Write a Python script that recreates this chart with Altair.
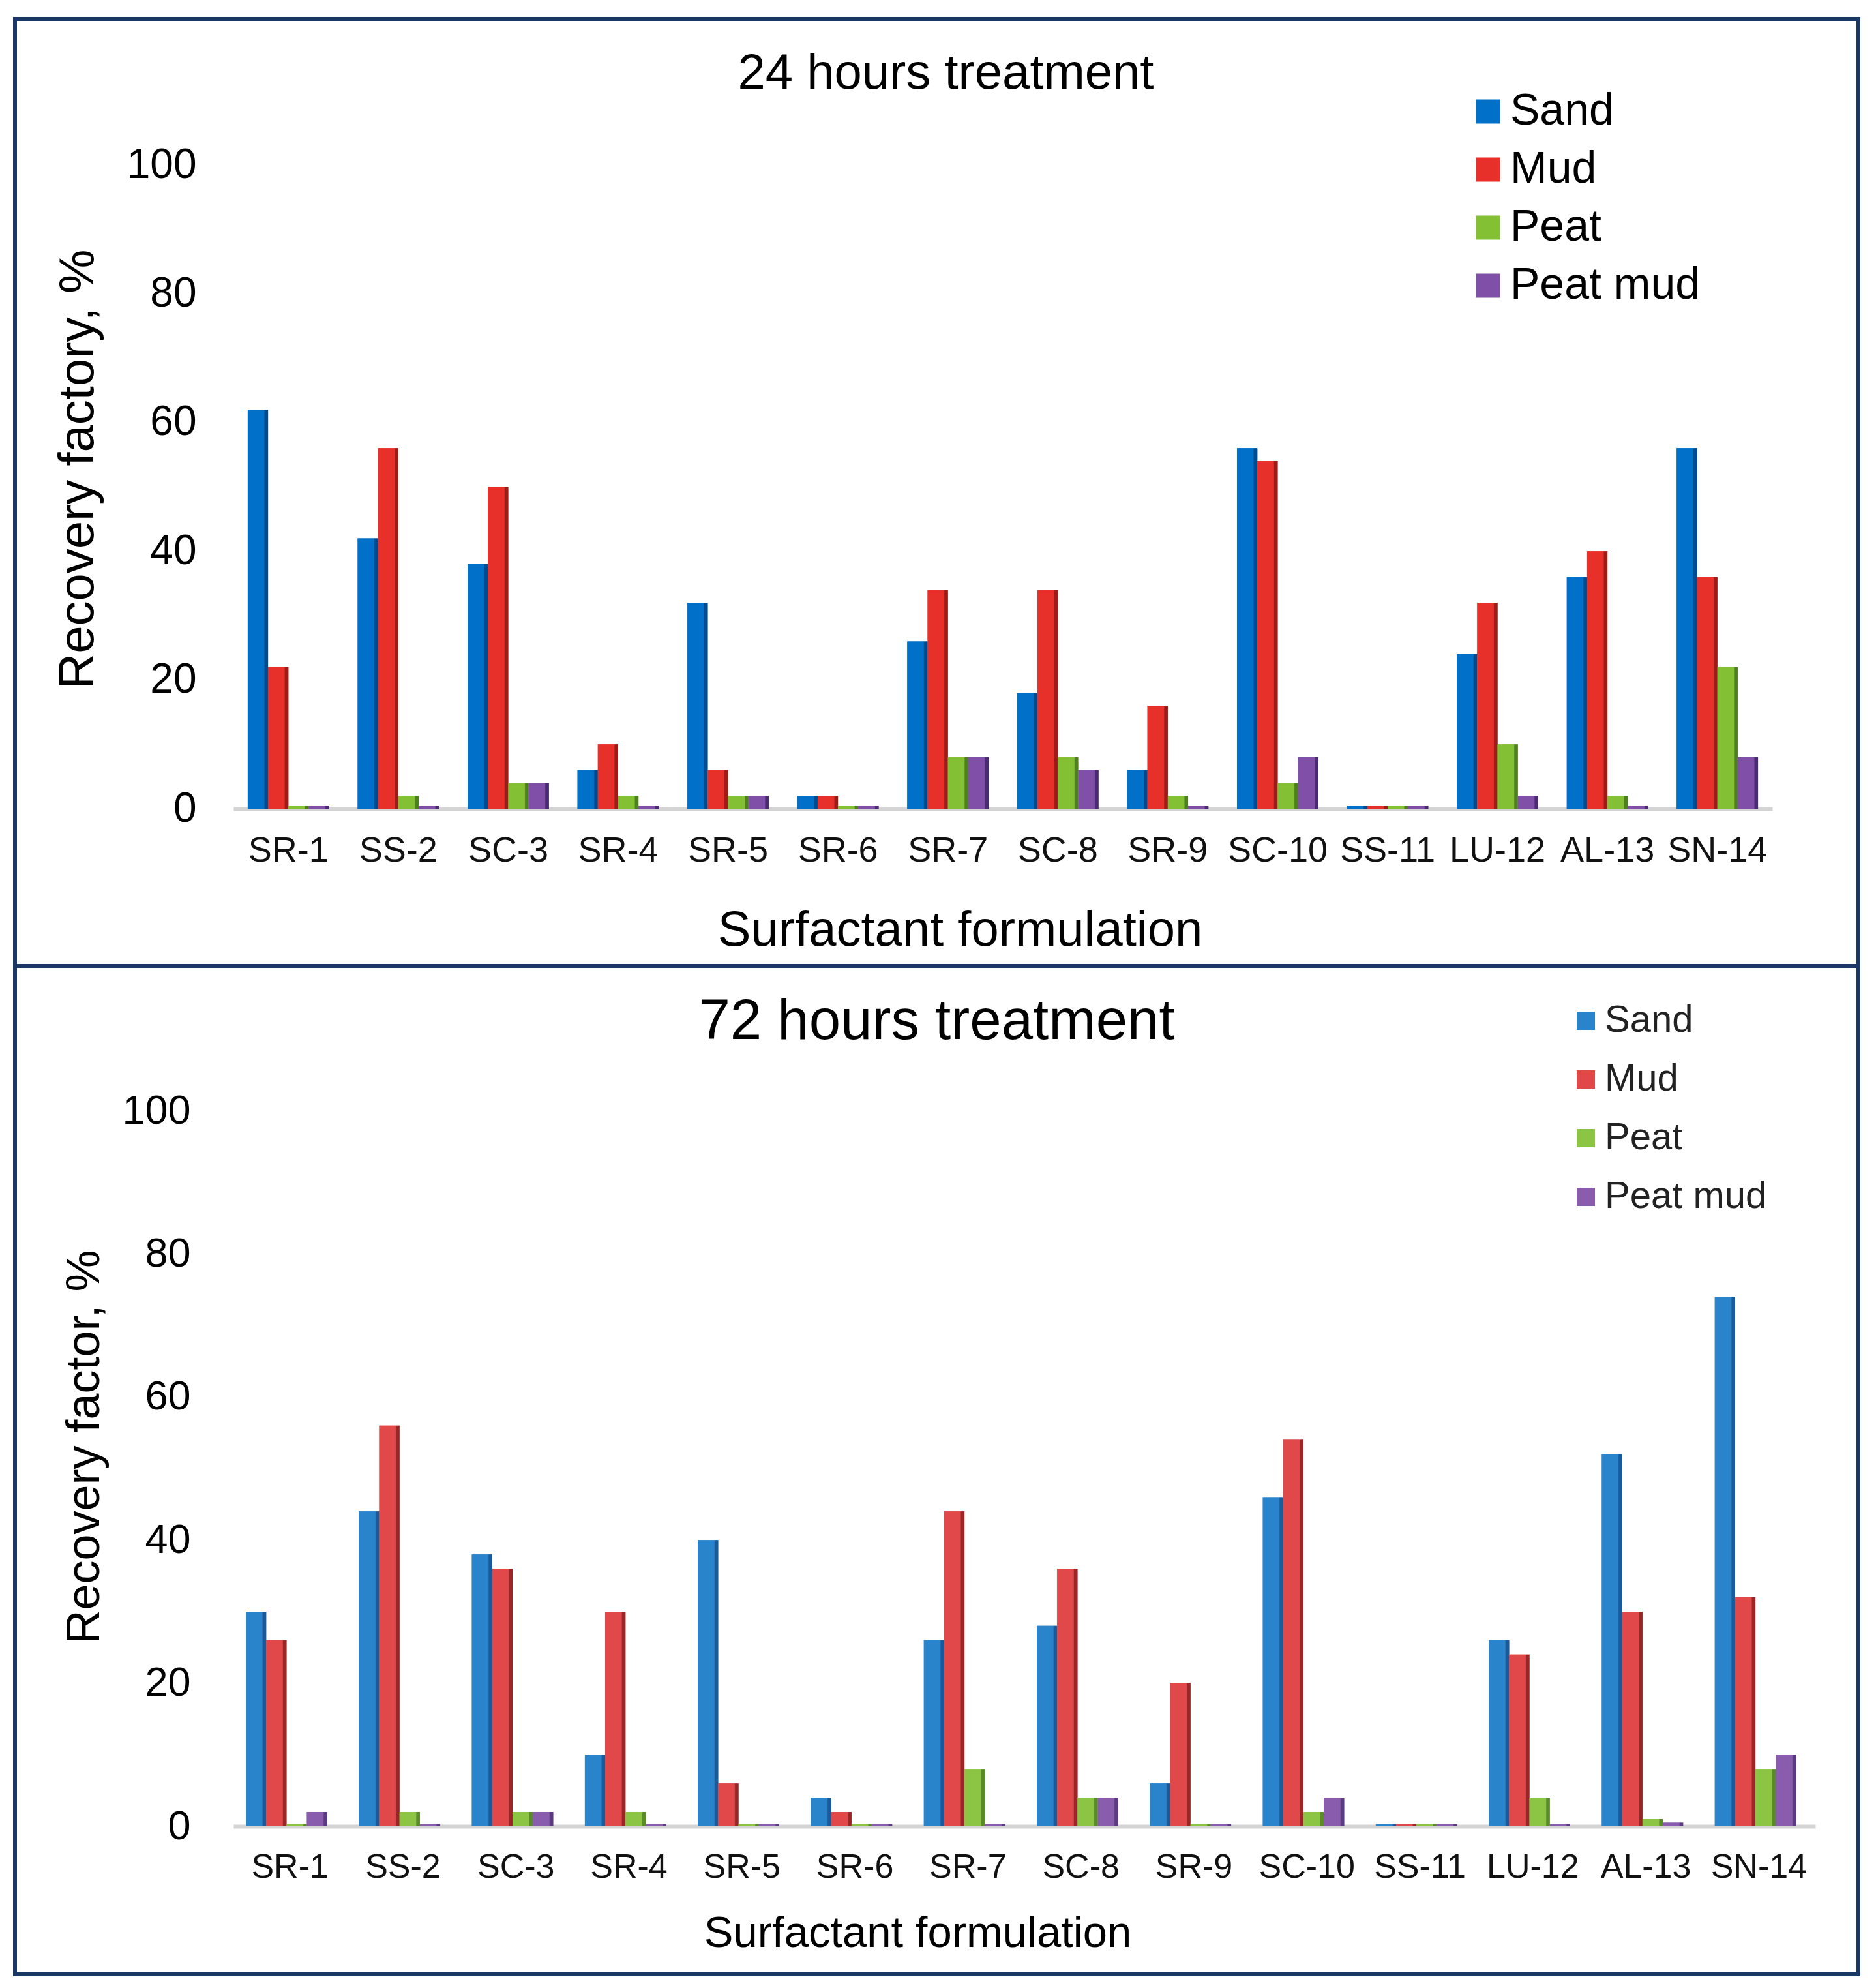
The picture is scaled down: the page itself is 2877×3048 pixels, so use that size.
import altair as alt
import pandas as pd

categories = ["SR-1", "SS-2", "SC-3", "SR-4", "SR-5", "SR-6", "SR-7",
              "SC-8", "SR-9", "SC-10", "SS-11", "LU-12", "AL-13", "SN-14"]
series = ["Sand", "Mud", "Peat", "Peat mud"]

# 24 hours treatment (recovery factor, %)
sand_24 = [62, 42, 38, 6, 32, 2, 26, 18, 6, 56, 0.5, 24, 36, 56]
mud_24 = [22, 56, 50, 10, 6, 2, 34, 34, 16, 54, 0.5, 32, 40, 36]
peat_24 = [0.5, 2, 4, 2, 2, 0.5, 8, 8, 2, 4, 0.5, 10, 2, 22]
peatmud_24 = [0.5, 0.5, 4, 0.5, 2, 0.5, 8, 6, 0.5, 8, 0.5, 2, 0.5, 8]

# 72 hours treatment (recovery factor, %)
sand_72 = [30, 44, 38, 10, 40, 4, 26, 28, 6, 46, 0.3, 26, 52, 74]
mud_72 = [26, 56, 36, 30, 6, 2, 44, 36, 20, 54, 0.3, 24, 30, 32]
peat_72 = [0.3, 2, 2, 2, 0.3, 0.3, 8, 4, 0.3, 2, 0.3, 4, 1, 8]
peatmud_72 = [2, 0.3, 2, 0.3, 0.3, 0.3, 0.3, 4, 0.3, 4, 0.3, 0.3, 0.5, 10]

y_ticks = [0, 20, 40, 60, 80, 100]

colors_24 = ["#0070c8", "#e8302a", "#84c034", "#8050a8"]
dark_24 = ["#004a8e", "#9c1c18", "#4f8020", "#4a2a70"]
colors_72 = ["#2a84cc", "#e0484a", "#8cc444", "#8a5cae"]
dark_72 = ["#1a5a98", "#982828", "#5a8a2a", "#5a3a80"]

FONT = "Liberation Sans"
BORDER = "#1b3766"


def long_df(cols):
    rows = []
    for s, vals in zip(series, cols):
        for c, v in zip(categories, vals):
            rows.append({"formulation": c, "series": s, "value": v})
    return pd.DataFrame(rows)


def panel(df, title, title_size, title_offset, title_dx, y_title, width, height,
          colors, darks, pad_inner, y_label_size, y_label_pad,
          y_title_size, y_title_pad, y_title_y, x_label_size, x_label_pad,
          x_title_size, x_title_pad, x_title_x, leg_x, leg_y, leg_size, leg_sym,
          leg_row_pad, leg_label_off, leg_color, rect_box):
    x_enc = alt.X("formulation:N", sort=categories,
                  scale=alt.Scale(paddingInner=pad_inner, paddingOuter=pad_inner / 2),
                  axis=alt.Axis(title="Surfactant formulation", labelAngle=0,
                                labelFontSize=x_label_size, labelFont=FONT,
                                labelColor="#111111", labelPadding=x_label_pad,
                                ticks=False, tickSize=0, domainColor="#d4d4d4",
                                domainWidth=6, titleFontSize=x_title_size,
                                titleFont=FONT, titleFontWeight="normal",
                                titleColor="#000000", titlePadding=x_title_pad,
                                titleX=x_title_x, titleAlign="center"))
    xo_enc = alt.XOffset("series:N", sort=series, scale=alt.Scale(domain=series))
    y_enc = alt.Y("value:Q",
                  scale=alt.Scale(domain=[0, 100], nice=False),
                  axis=alt.Axis(title=y_title, values=y_ticks, grid=False,
                                domain=False, ticks=False, tickSize=0,
                                labelFontSize=y_label_size, labelFont=FONT,
                                labelColor="#000000", labelPadding=y_label_pad,
                                titleFontSize=y_title_size, titleFont=FONT,
                                titleFontWeight="normal", titleColor="#000000",
                                titlePadding=y_title_pad, titleY=y_title_y,
                                titleAlign="center"))

    base = alt.Chart(df).mark_bar().encode(
        x=x_enc, xOffset=xo_enc, y=y_enc,
        color=alt.Color("series:N", sort=series,
                        scale=alt.Scale(domain=series, range=colors),
                        legend=alt.Legend(title=None, orient="none",
                                          legendX=leg_x, legendY=leg_y,
                                          symbolType="square", symbolSize=leg_sym,
                                          symbolStrokeWidth=0,
                                          labelFontSize=leg_size, labelFont=FONT,
                                          labelColor=leg_color,
                                          labelOffset=leg_label_off,
                                          labelLimit=0,
                                          rowPadding=leg_row_pad,
                                          padding=0)),
    )

    overlays = []
    for s, c, d in zip(series, colors, darks):
        grad = alt.Gradient(
            gradient="linear", x1=0, x2=1, y1=0, y2=0,
            stops=[alt.GradientStop(offset=0, color=c),
                   alt.GradientStop(offset=0.8, color=c),
                   alt.GradientStop(offset=0.84, color=d),
                   alt.GradientStop(offset=1, color=d)])
        overlays.append(
            alt.Chart(df).transform_filter(alt.datum.series == s)
            .mark_bar(color=grad)
            .encode(x=x_enc, xOffset=xo_enc, y=y_enc)
        )

    x0, x1, y0, y1 = rect_box
    border = alt.Chart(pd.DataFrame({"frame": [0]})).mark_rect(
        filled=False, stroke=BORDER, strokeWidth=6
    ).encode(x=alt.value(x0), x2=alt.value(x1), y=alt.value(y0), y2=alt.value(y1))

    return alt.layer(border, base, *overlays).properties(
        width=width, height=height,
        title=alt.TitleParams(title, fontSize=title_size, font=FONT,
                              fontWeight="normal", color="#000000",
                              anchor="middle", frame="bounds", baseline="bottom",
                              offset=title_offset, dx=title_dx),
    )


top = panel(long_df([sand_24, mud_24, peat_24, peatmud_24]),
            "24 hours treatment", 76, -202, 14, "Recovery factory, %",
            2360, 987, colors_24, dark_24, 0.26, 64, 57, 76, 36, 466,
            54, 37, 76, 58, 1114, 1890, -116, 68, 1369, 21, 0, "#000000",
            (-335, 2492, -224, 1228))

bottom = panel(long_df([sand_72, mud_72, peat_72, peatmud_72]),
               "72 hours treatment", 87, -220, 0, "Recovery factor, %",
               2426, 1097, colors_72, dark_72, 0.22, 63, 66, 72, 20, 515,
               52, 37, 67, 43, 1049, 2045, -167, 58, 784, 32, 0, "#222222",
               (-335, 2492, -222, 1324))

chart = alt.vconcat(top, bottom, spacing=-6).resolve_scale(
    color="independent", x="independent", y="independent"
).properties(
    padding={"left": 12, "top": 18, "right": 5, "bottom": 5},
    background="white",
).configure_view(stroke=None)

chart.save("out.html", embed_options={"renderer": "svg", "actions": False})
